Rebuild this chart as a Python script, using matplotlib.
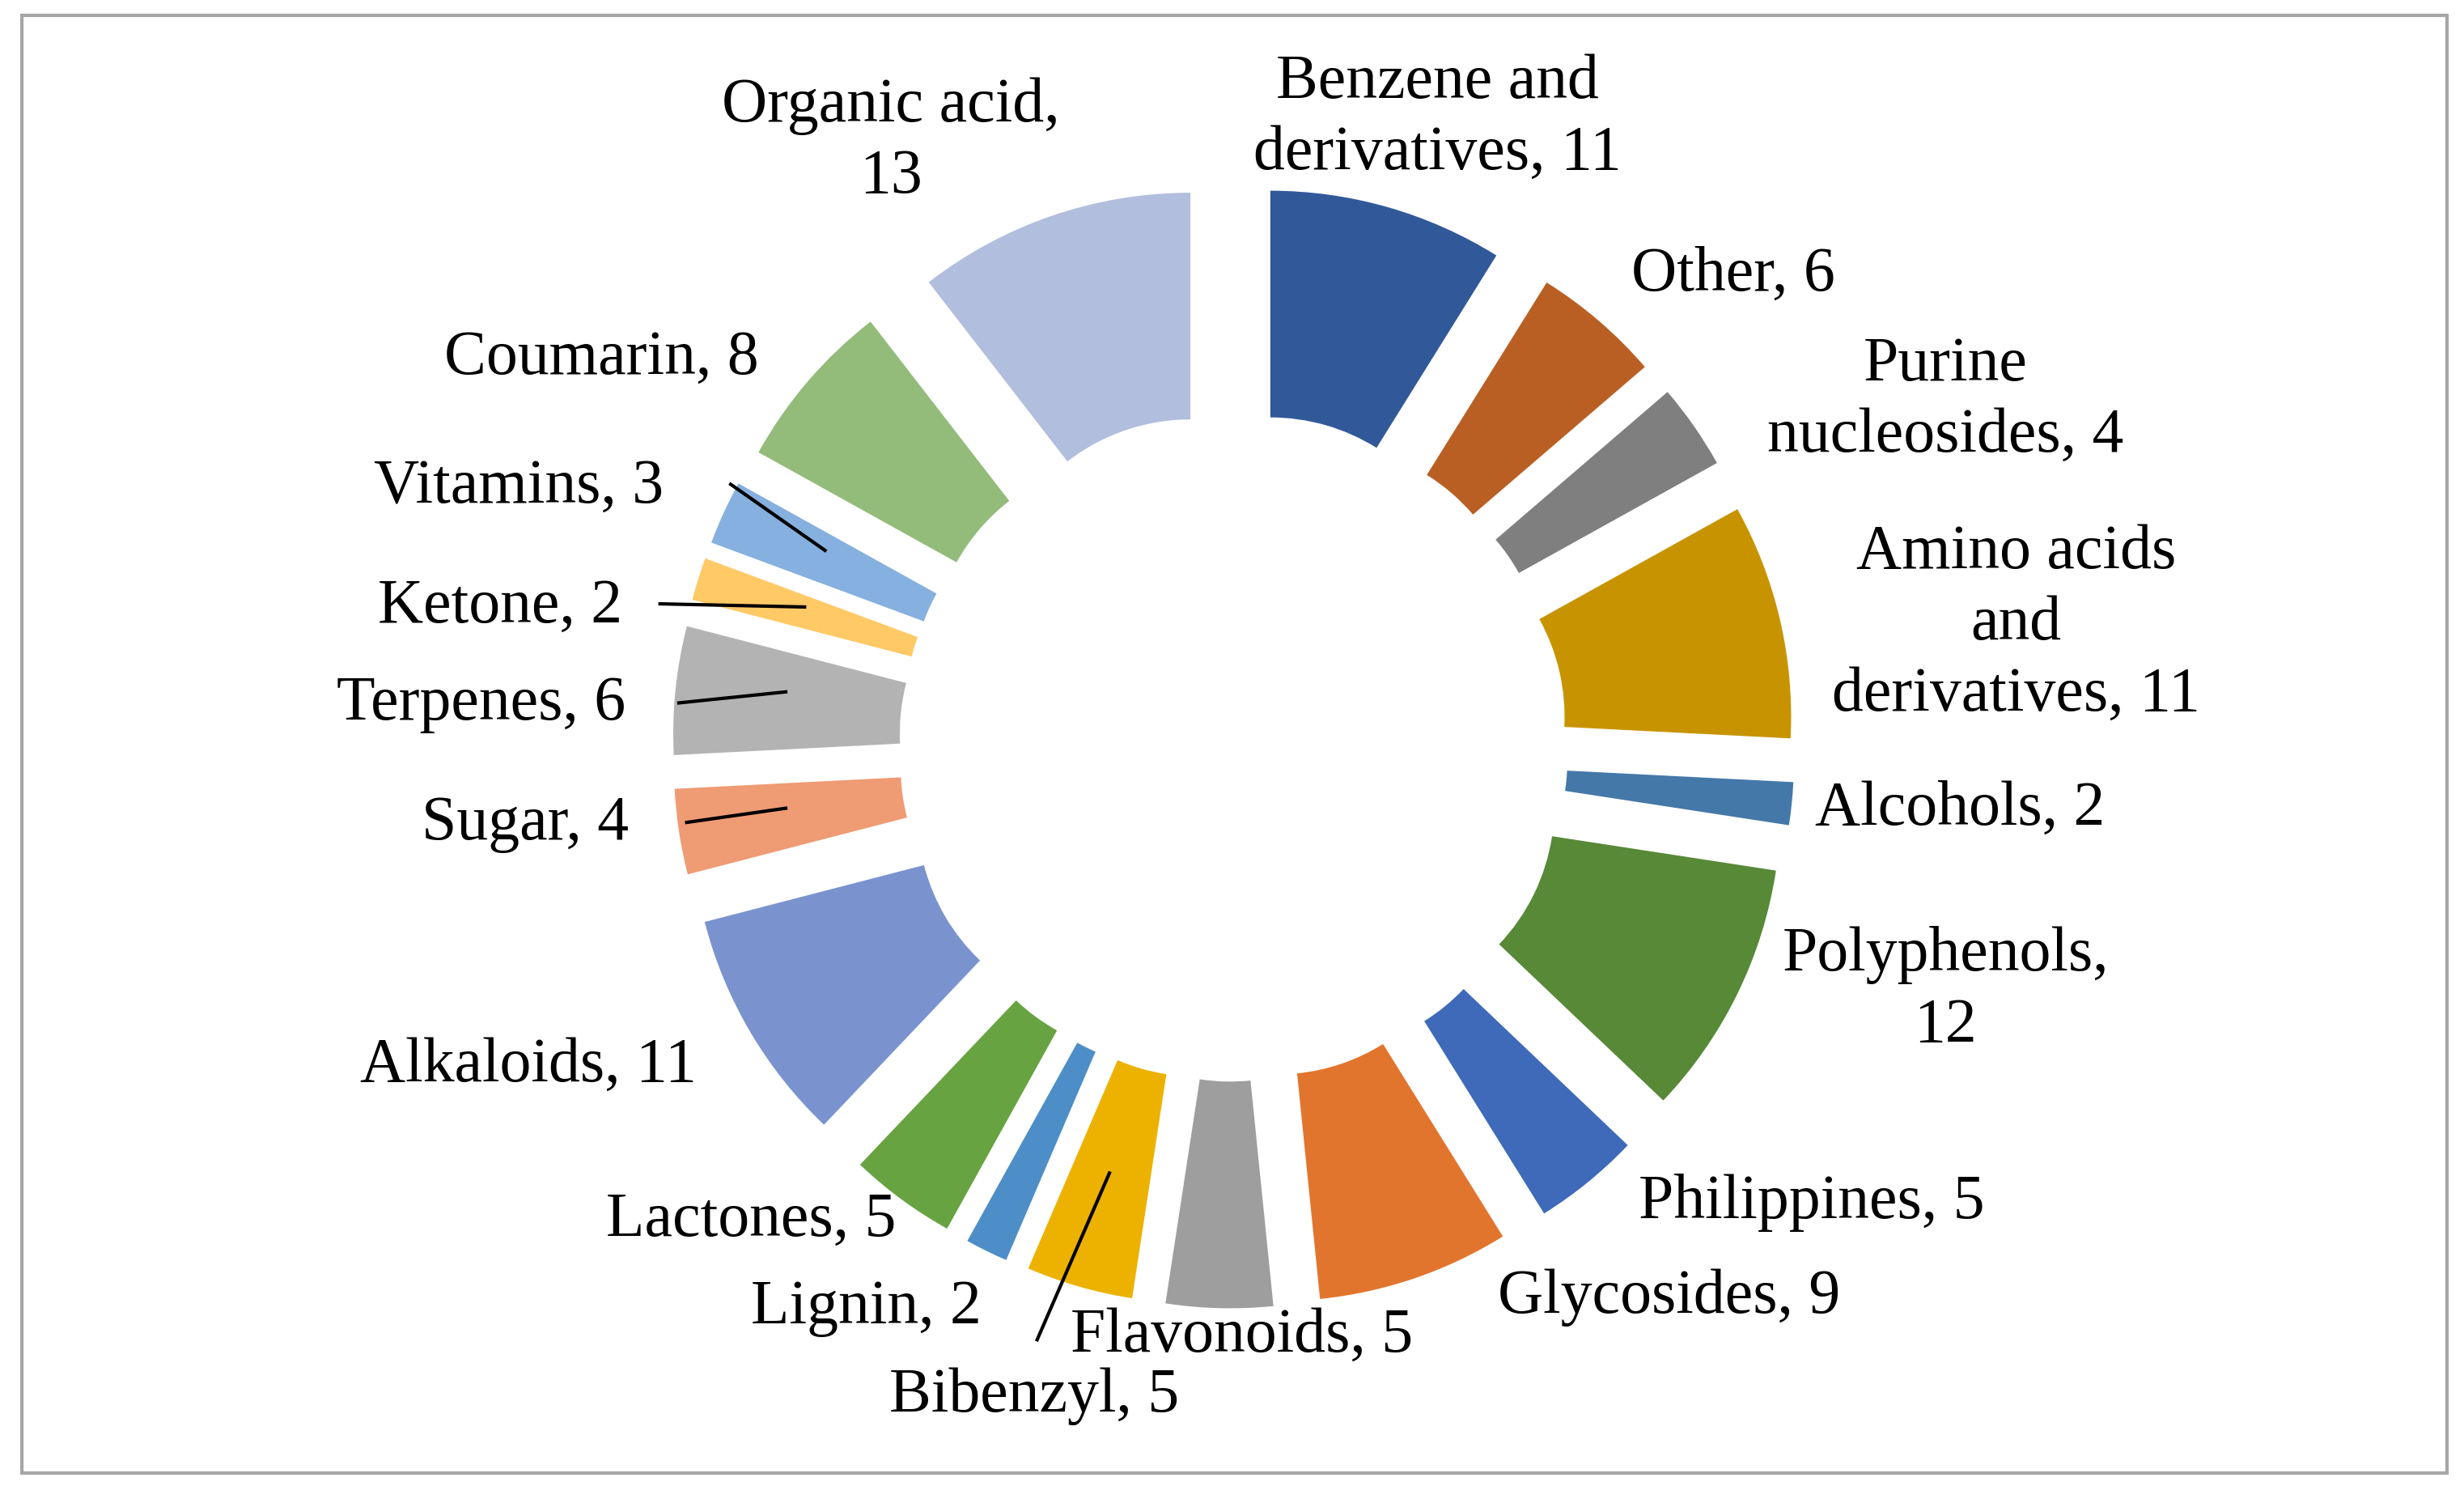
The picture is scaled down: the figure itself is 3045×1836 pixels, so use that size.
import matplotlib.pyplot as plt
from matplotlib.patches import Rectangle

categories = ["Benzene and\nderivatives", "Other", "Purine\nnucleosides", "Amino acids\nand\nderivatives",
              "Alcohols", "Polyphenols,\n", "Philippines", "Glycosides", "Flavonoids", "Bibenzyl",
              "Lignin", "Lactones", "Alkaloids", "Sugar", "Terpenes", "Ketone", "Vitamins",
              "Coumarin", "Organic acid,\n"]
values = [11, 6, 4, 11, 2, 12, 5, 9, 5, 5, 2, 5, 11, 4, 6, 2, 3, 8, 13]
colors = ["#31599A", "#BA5F23", "#7F7F7F", "#C79400", "#4478A8", "#578937", "#3E6AB9", "#E2752D",
          "#9E9E9E", "#EDB200", "#4E8EC8", "#68A342", "#7A93CF", "#EF9B74", "#B3B3B3", "#FFC966",
          "#85B0DF", "#93BC7A", "#B1BEDD"]

# label positions in pixel space of the reference (layout only)
label_pos = [(915, 75), (1103, 175), (1238, 255), (1283, 397), (1247, 515), (1238, 630),
             (1153, 765), (1062, 825), (790, 850), (658, 888), (551, 832), (478, 776),
             (336, 678), (334, 524), (306, 448), (318, 386), (330, 310), (383, 228), (567, 90)]
leaders = {"Vitamins": ((465, 308), (525, 350)), "Ketone": ((420, 384), (512, 386)),
           "Terpenes": ((432, 447), (500, 440)), "Sugar": ((437, 523), (500, 514)),
           "Bibenzyl": ((660, 852), (706, 746))}

W, H = 1568, 945
fig = plt.figure(figsize=(15.225, 9.18), dpi=200)
ax = fig.add_axes([0, 0, 1, 1])

r = 272
# y axis is inverted below, so counterclock in data = clockwise on screen
ax.pie(values, colors=colors, startangle=-90, counterclock=True, center=(785, 475), radius=r,
       explode=[85] * len(values), wedgeprops=dict(width=0.53 * r, linewidth=0), frame=True)
ax.set_xlim(0, W)
ax.set_ylim(H, 0)
ax.set_aspect("auto")
ax.axis("off")

for name, v, (x, y) in zip(categories, values, label_pos):
    txt = f"{name}{v}" if name.endswith("\n") else f"{name}, {v}"
    ax.text(x, y, txt, ha="center", va="center", fontsize=28, family="Liberation Serif",
            linespacing=1.3)

for (x0, y0), (x1, y1) in leaders.values():
    ax.plot([x0, x1], [y0, y1], color="black", lw=1.5)

ax.add_patch(Rectangle((14, 10), 1543, 927, fill=False, edgecolor="#A6A6A6", lw=1.5))
fig.savefig("out.png")
